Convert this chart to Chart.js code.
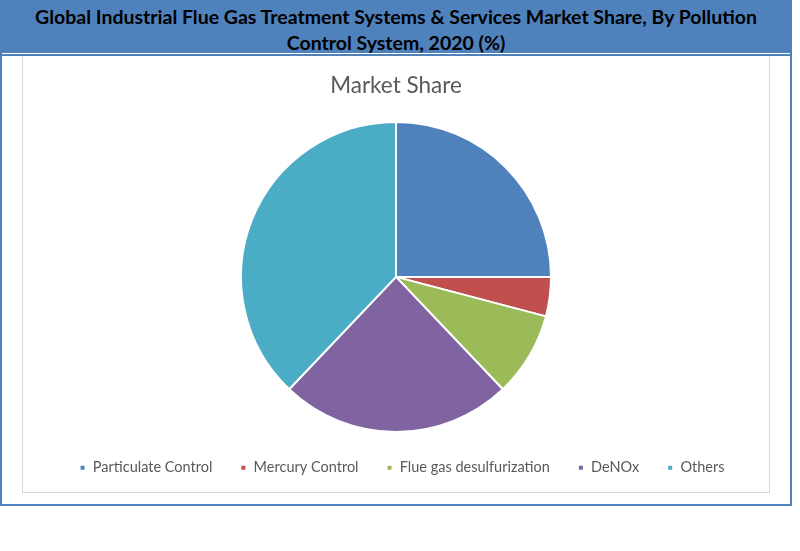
<!DOCTYPE html>
<html>
<head>
<meta charset="utf-8">
<script src="https://cdn.jsdelivr.net/npm/chart.js@4.4.0/dist/chart.umd.min.js"></script>
<style>
  html, body { margin: 0; padding: 0; background: #ffffff; }
  body { width: 800px; height: 551px; position: relative; overflow: hidden; }
  #frame { position: absolute; left: 0; top: 0; width: 788px; height: 504px;
           border: 2px solid #4f81bd; border-top: none; }
  #header { position: absolute; left: 0; top: 0; width: 792px; height: 53px; background: #4f81bd;
            font-family: Lato, 'Open Sans', sans-serif; font-weight: bold; color: #000;
            text-align: center; font-size: 19.5px; line-height: 26px; padding-top: 4px; box-sizing: border-box; }
  #hline { position: absolute; left: 0; top: 54px; width: 792px; height: 2px; background: #4f81bd; }
  #box { position: absolute; left: 22px; top: 56px; width: 746px; height: 436px;
         border: 1px solid #d9d9d9; border-top: none; }
  #wrap { position: absolute; left: 23px; top: 56px; width: 746px; height: 436px; }
</style>
</head>
<body>
<div id="frame"></div>
<div id="header"><span id="t1"></span><br><span id="t2"></span></div>
<div id="hline"></div>
<div id="box"></div>
<div id="wrap"><canvas id="c"></canvas></div>
<script>
const headerLines = ["Global Industrial Flue Gas Treatment Systems & Services Market Share, By Pollution",
                     "Control System, 2020 (%)"];
const chartTitle = "Market Share";
const categories = ["Particulate Control", "Mercury Control", "Flue gas desulfurization", "DeNOx", "Others"];
const shares = [25.0, 4.1, 8.8, 24.2, 37.9];
const colors = ["#4f81bd", "#c0504d", "#9bbb59", "#8064a2", "#4bacc6"];

document.getElementById('t1').textContent = headerLines[0];
document.getElementById('t2').textContent = headerLines[1];

const legendShift = {
  id: 'legendShift',
  afterLayout(chart) {
    if (chart.legend) { chart.legend.left += 6; chart.legend.right += 6; chart.legend.top += 1; chart.legend.bottom += 1; }
  }
};

new Chart(document.getElementById('c'), {
  type: 'pie',
  data: {
    labels: categories,
    datasets: [{
      data: shares,
      backgroundColor: colors,
      borderColor: '#ffffff',
      borderWidth: 2,
      radius: 155
    }]
  },
  plugins: [legendShift],
  options: {
    responsive: true,
    maintainAspectRatio: false,
    animation: false,
    layout: { padding: { top: 0, bottom: 8, left: 0, right: 0 } },
    plugins: {
      title: {
        display: true,
        text: chartTitle,
        color: '#595959',
        font: { family: 'Lato, "Open Sans", sans-serif', size: 22.5, weight: 'normal', lineHeight: 1.2 },
        padding: { top: 16, bottom: 23.3 }
      },
      legend: {
        display: true,
        position: 'bottom',
        labels: {
          color: '#595959',
          font: { family: 'Lato, "Open Sans", sans-serif', size: 14.5 },
          boxWidth: 6,
          boxHeight: 6,
          padding: 28
        }
      },
      tooltip: { enabled: false }
    }
  }
});
</script>
</body>
</html>
